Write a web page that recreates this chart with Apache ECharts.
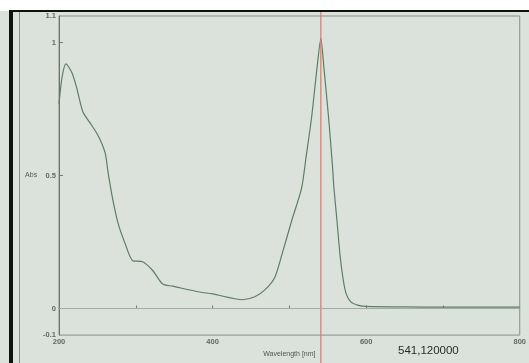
<!DOCTYPE html>
<html><head><meta charset="utf-8">
<script src="https://cdn.jsdelivr.net/npm/echarts@6/dist/echarts.min.js"></script>
<style>html,body{margin:0;padding:0;background:#dbe2dc}#c{width:529px;height:363px}</style>
</head><body><div id="c"></div>
<script>
const wavelengths = [200,204,209,217,223,231,240,251,260,264,270,277,286,296,309,322,335,348,383,400,439,455,468,481,491,503,516,522,529,536,541,545,551,556,558,562,566,570,574,580,590,600,650,700,750,800];
const absorbance = [0.77,0.87,0.92,0.886,0.83,0.74,0.70,0.65,0.586,0.51,0.41,0.32,0.245,0.18,0.176,0.143,0.092,0.084,0.062,0.055,0.033,0.044,0.07,0.117,0.21,0.33,0.454,0.575,0.72,0.905,1.015,0.905,0.72,0.54,0.454,0.33,0.2,0.11,0.055,0.025,0.012,0.008,0.006,0.005,0.005,0.005];
const xTickLabels = [200,400,600,800];
const xTicks = [300,400,500,600,700];
const yTickLabels = [-0.1,0,0.5,1,1.1];
const yTicks = [0,0.5,1];
const cursorWavelength = 541;
const readout = '541,120000';

const chart = echarts.init(document.getElementById('c'));
chart.setOption({
  backgroundColor: '#dbe2dc',
  animation: false,
  grid: {left: 59, right: 8, top: 16, bottom: 19, show: true, borderColor: '#8a8f8a', borderWidth: 1},
  xAxis: {
    type: 'value', min: 200, max: 800,
    name: 'Wavelength [nm]', nameLocation: 'middle', nameGap: 9,
    nameTextStyle: {fontSize: 7, color: '#555', fontFamily: 'Liberation Sans'},
    axisLine: {lineStyle: {color: '#7d827d'}},
    axisTick: {inside: true, length: 3, customValues: xTicks, lineStyle: {color: '#777'}},
    axisLabel: {customValues: xTickLabels, fontSize: 7.5, color: '#666', margin: 3, fontWeight: 'bold', fontFamily: 'Liberation Sans'},
    splitLine: {show: false}
  },
  yAxis: {
    type: 'value', min: -0.1, max: 1.1,
    name: 'Abs', nameLocation: 'middle', nameGap: 20, nameRotate: 0,
    nameTextStyle: {fontSize: 7, color: '#555', align: 'right', fontFamily: 'Liberation Sans'},
    axisLine: {show: true, lineStyle: {color: '#6d726d'}},
    axisTick: {show: true, inside: true, length: 4, customValues: yTicks, lineStyle: {color: '#777'}},
    axisLabel: {customValues: yTickLabels, fontSize: 7.5, color: '#666', margin: 3, fontWeight: 'bold', fontFamily: 'Liberation Sans'},
    splitLine: {show: false}
  },
  series: [
    {
      type: 'line',
      data: wavelengths.map((w, i) => [w, absorbance[i]]),
      showSymbol: false, smooth: 0.25,
      lineStyle: {color: '#5d7d63', width: 1.2},
      markLine: {
        silent: true, symbol: 'none', label: {show: false},
        lineStyle: {color: '#a3aba5', type: 'solid', width: 1},
        data: [{yAxis: 0}]
      },
      z: 3
    },
    {
      type: 'custom',
      data: [[cursorWavelength, 0]],
      clip: false,
      renderItem: function (params, api) {
        const x = api.coord([api.value(0), 0])[0];
        return {type: 'line', shape: {x1: x, y1: 12, x2: x, y2: 363},
          style: {stroke: '#e0756c', lineWidth: 1.2}};
      },
      z: 4
    }
  ],
  graphic: [
    {type: 'rect', shape: {x: 0, y: 0, width: 529, height: 11}, style: {fill: '#ffffff'}, z: 10},
    {type: 'rect', shape: {x: 9, y: 10, width: 520, height: 2}, style: {fill: '#111'}, z: 10},
    {type: 'rect', shape: {x: 9, y: 10, width: 4, height: 353}, style: {fill: '#111'}, z: 10},
    {type: 'line', shape: {x1: 19.5, y1: 12, x2: 19.5, y2: 363}, style: {stroke: '#8c918c', lineWidth: 1}, z: 10},
    {type: 'text', left: 398, top: 345, style: {text: readout, fontSize: 11.5, fill: '#2a2a2a', fontFamily: 'Liberation Sans'}, z: 10}
  ]
});
</script></body></html>
